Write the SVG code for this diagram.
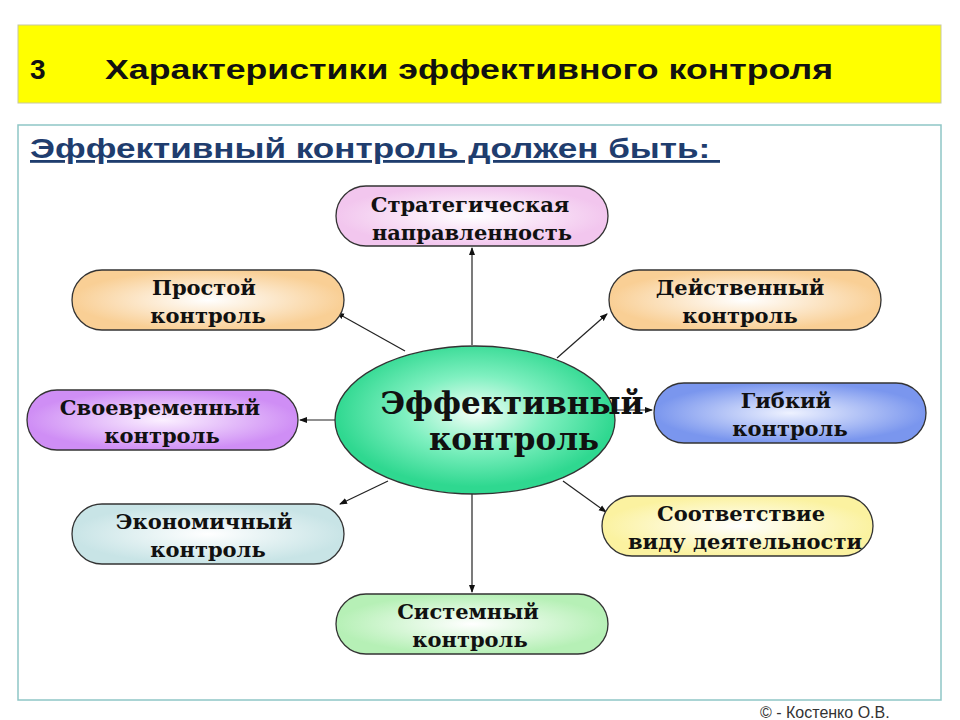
<svg xmlns="http://www.w3.org/2000/svg" width="960" height="720" viewBox="0 0 960 720">
<style>
.t{font-family:"DejaVu Serif","Liberation Serif",serif;font-weight:bold;font-size:21px;text-anchor:middle;fill:#111}
.p{stroke:#333;stroke-width:1.3}
.c line{stroke:#222;stroke-width:1.2;marker-end:url(#a)}
</style>
<defs>
<marker id="a" markerWidth="8" markerHeight="8" refX="7" refY="4" orient="auto" markerUnits="userSpaceOnUse"><path d="M0,1 L8,4 L0,7z" fill="#111"/></marker>
<radialGradient id="gPink"><stop offset="0" stop-color="#fff"/><stop offset="1" stop-color="#f2c6ee"/></radialGradient>
<radialGradient id="gOr"><stop offset="0" stop-color="#fff"/><stop offset="1" stop-color="#f9cf95"/></radialGradient>
<radialGradient id="gPur"><stop offset="0" stop-color="#fbf0ff"/><stop offset="1" stop-color="#cf8ef5"/></radialGradient>
<radialGradient id="gBl"><stop offset="0" stop-color="#eef2ff"/><stop offset="1" stop-color="#7a96ee"/></radialGradient>
<radialGradient id="gTe"><stop offset="0" stop-color="#fff"/><stop offset="1" stop-color="#c8e4e6"/></radialGradient>
<radialGradient id="gYe"><stop offset="0" stop-color="#fff"/><stop offset="1" stop-color="#fbf2a0"/></radialGradient>
<radialGradient id="gGr"><stop offset="0" stop-color="#fff"/><stop offset="1" stop-color="#b6f0b6"/></radialGradient>
<radialGradient id="gEl" cx="0.5" cy="0.45"><stop offset="0" stop-color="#f4fff8"/><stop offset="0.5" stop-color="#7ff0c0"/><stop offset="1" stop-color="#2fd890"/></radialGradient>
</defs>
<rect width="960" height="720" fill="#fff"/>
<g id="header">
<rect x="18" y="25" width="923" height="78" fill="#ffff00" stroke="#c8c8a0"/>
<text x="30" y="79" font-family="Liberation Sans,Arial,sans-serif" font-weight="bold" font-size="28" fill="#111">3</text>
<text x="105" y="79" font-family="Liberation Sans,Arial,sans-serif" font-weight="bold" font-size="28" fill="#111" textLength="728" lengthAdjust="spacingAndGlyphs">Характеристики эффективного контроля</text>
</g>
<rect x="18" y="125" width="923" height="575" fill="none" stroke="#8fc6c6" stroke-width="1.5"/>
<text x="30" y="158" font-family="Liberation Sans,Arial,sans-serif" font-weight="bold" font-size="28" fill="#1f3d6e" text-decoration="underline" textLength="690" lengthAdjust="spacingAndGlyphs" xml:space="preserve">Эффективный контроль должен быть: </text>
<g class="c" id="connectors">
<line x1="472" y1="345" x2="472" y2="248"/>
<line x1="405" y1="351" x2="337" y2="313"/>
<line x1="557" y1="358" x2="607" y2="314"/>
<line x1="335" y1="420" x2="300" y2="420"/>
<line x1="614" y1="410" x2="652" y2="410"/>
<line x1="388" y1="481" x2="340" y2="504"/>
<line x1="563" y1="481" x2="606" y2="512"/>
<line x1="472" y1="494" x2="472" y2="592"/>
</g>
<g id="center"><ellipse cx="475" cy="420" rx="140" ry="74" fill="url(#gEl)" stroke="#333" stroke-width="1.3"/>
<text class="t" x="512" y="414" style="font-size:31px">Эффективный</text><text class="t" x="514" y="450" style="font-size:31px">контроль</text></g>
<g id="n1"><rect class="p" x="336" y="186" width="272" height="60" rx="30" fill="url(#gPink)"/><text class="t" x="470" y="212">Стратегическая</text><text class="t" x="472" y="240">направленность</text></g>
<g id="n2"><rect class="p" x="72" y="270" width="272" height="60" rx="30" fill="url(#gOr)"/><text class="t" x="204" y="295">Простой</text><text class="t" x="208" y="323">контроль</text></g>
<g id="n3"><rect class="p" x="609" y="270" width="272" height="60" rx="30" fill="url(#gOr)"/><text class="t" x="740" y="295">Действенный</text><text class="t" x="740" y="323">контроль</text></g>
<g id="n4"><rect class="p" x="27" y="390" width="271" height="60" rx="30" fill="url(#gPur)"/><text class="t" x="160" y="415">Своевременный</text><text class="t" x="162" y="443">контроль</text></g>
<g id="n5"><rect class="p" x="654" y="383" width="272" height="60" rx="30" fill="url(#gBl)"/><text class="t" x="786" y="408">Гибкий</text><text class="t" x="790" y="436">контроль</text></g>
<g id="n6"><rect class="p" x="72" y="504" width="272" height="60" rx="30" fill="url(#gTe)"/><text class="t" x="204" y="529">Экономичный</text><text class="t" x="208" y="557">контроль</text></g>
<g id="n7"><rect class="p" x="602" y="496" width="271" height="60" rx="30" fill="url(#gYe)"/><text class="t" x="741" y="521">Соответствие</text><text class="t" x="745" y="549">виду деятельности</text></g>
<g id="n8"><rect class="p" x="336" y="594" width="272" height="60" rx="30" fill="url(#gGr)"/><text class="t" x="468" y="619">Системный</text><text class="t" x="470" y="647">контроль</text></g>
<text x="760" y="718" font-family="Liberation Sans,Arial,sans-serif" font-size="16" fill="#333">© - Костенко О.В.</text>
</svg>
